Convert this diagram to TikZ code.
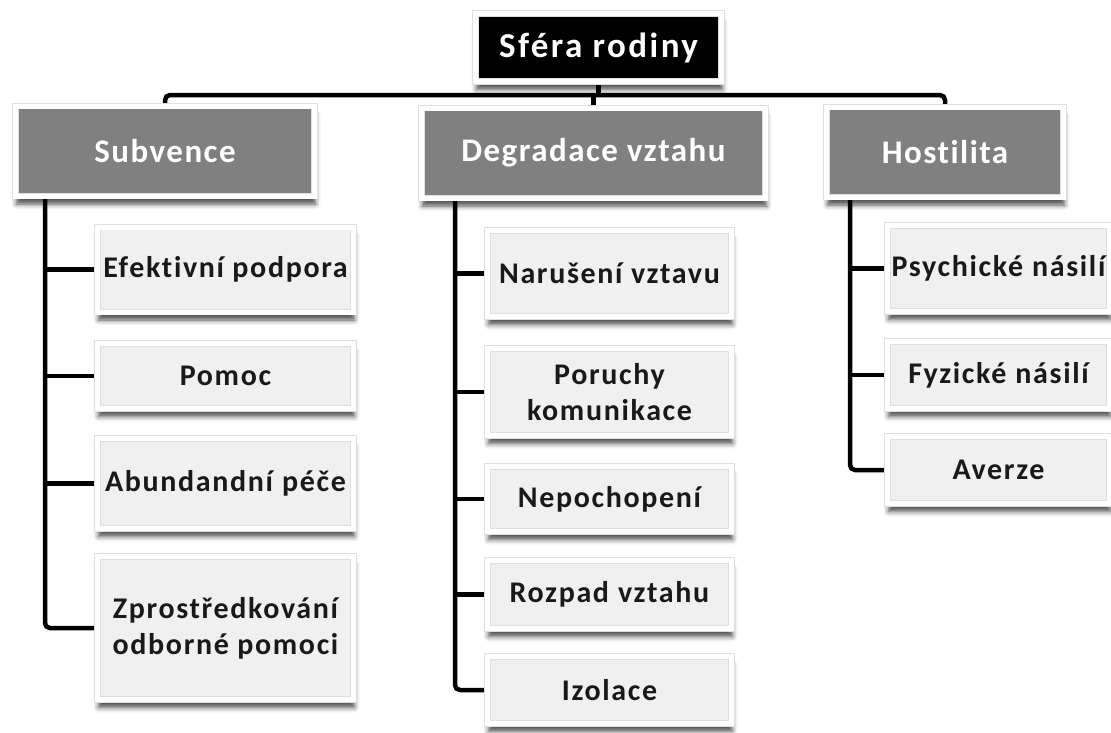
\documentclass[tikz,border=0pt]{standalone}
\usepackage{fontspec}
\setmainfont{Carlito}
\newfontfamily\itemfont[LetterSpace=5.5, Ligatures=CommonOff]{Carlito}
\newfontfamily\headfont[LetterSpace=4.5, Ligatures=CommonOff]{Carlito}
\newfontfamily\topfont[LetterSpace=7, Ligatures=CommonOff]{Carlito}
\usetikzlibrary{shadows.blur}
\pgfdeclarelayer{bg}
\pgfsetlayers{bg,main}
\newcommand{\wsp}{\hspace{0.3em}}

\begin{document}
\begin{tikzpicture}[x=1pt,y=-1pt,
    frame/.style={draw=gray!25, double=white, double distance=5pt, line width=0.8pt, inner sep=0pt, align=center,
      blur shadow={shadow xshift=1pt, shadow yshift=-8pt, shadow blur radius=5pt, shadow opacity=70}},
    topbox/.style={frame, fill=black, text=white, minimum width=246, minimum height=68, font=\topfont\bfseries\fontsize{35}{40}\selectfont},
    headbox/.style={frame, fill=gray!100, text=white, minimum height=90, font=\headfont\bfseries\fontsize{33}{38}\selectfont},
    itembox/.style={frame, fill=gray!12, text=black!90, font=\itemfont\bfseries\fontsize{30}{36}\selectfont},
    link/.style={line width=4.5pt, rounded corners=5pt}]
  \useasboundingbox (0,0) rectangle (1111,732);

  % top and the three branches
  \node[topbox] (root) at (598.5,47.5) {Sféra rodiny};
  \node[headbox, minimum width=299] (sub) at (165,151) {Subvence};
  \node[headbox, minimum width=344] (deg) at (593.5,153) {Degradace vztahu};
  \node[headbox, minimum width=237] (host) at (945,152) {Hostilita};

  % Subvence
  \node[itembox, minimum width=256, minimum height=85] (s1) at (225.5,269.5) {Efektivní podpora};
  \node[itembox, minimum width=256, minimum height=65] (s2) at (225.5,376) {Pomoc};
  \node[itembox, minimum width=256, minimum height=90] (s3) at (225.5,483.5) {Abundandní\wsp péče};
  \node[itembox, minimum width=256, minimum height=143] (s4) at (225.5,628) {Zprostředkování\\odborné pomoci};

  % Degradace vztahu
  \node[itembox, minimum width=244, minimum height=86] (d1) at (609.5,273.5) {Narušení vztavu};
  \node[itembox, minimum width=244, minimum height=87] (d2) at (609.5,392) {Poruchy\\komunikace};
  \node[itembox, minimum width=244, minimum height=65] (d3) at (609.5,499) {Nepochopení};
  \node[itembox, minimum width=244, minimum height=68] (d4) at (609.5,594.5) {Rozpad\wsp vztahu};
  \node[itembox, minimum width=244, minimum height=67] (d5) at (609.5,690) {Izolace};

  % Hostilita
  \node[itembox, minimum width=222, minimum height=86] (h1) at (998.5,268.5) {Psychické\wsp násilí};
  \node[itembox, minimum width=222, minimum height=67] (h2) at (998.5,375) {Fyzické\wsp násilí};
  \node[itembox, minimum width=222, minimum height=67] (h3) at (998.5,470) {Averze};

  \coordinate (bar) at (598,95);
  \coordinate (subT) at (45,0);
  \coordinate (degT) at (455,0);
  \coordinate (hostT) at (850,0);

  \begin{pgfonlayer}{bg}
    \draw[link] (sub.north) |- (bar) -| (host.north);
    \draw[link] (deg.north) -- (deg.north |- bar);
    \draw[link] (root.south) -- (root.south |- bar);
    \draw[link] (sub.south -| subT) |- (s4.west);
    \foreach \n in {s1,s2,s3} \draw[link] (subT |- \n.west) -- (\n.west);
    \draw[link] (deg.south -| degT) |- (d5.west);
    \foreach \n in {d1,d2,d3,d4} \draw[link] (degT |- \n.west) -- (\n.west);
    \draw[link] (host.south -| hostT) |- (h3.west);
    \foreach \n in {h1,h2} \draw[link] (hostT |- \n.west) -- (\n.west);
  \end{pgfonlayer}
\end{tikzpicture}
\end{document}
